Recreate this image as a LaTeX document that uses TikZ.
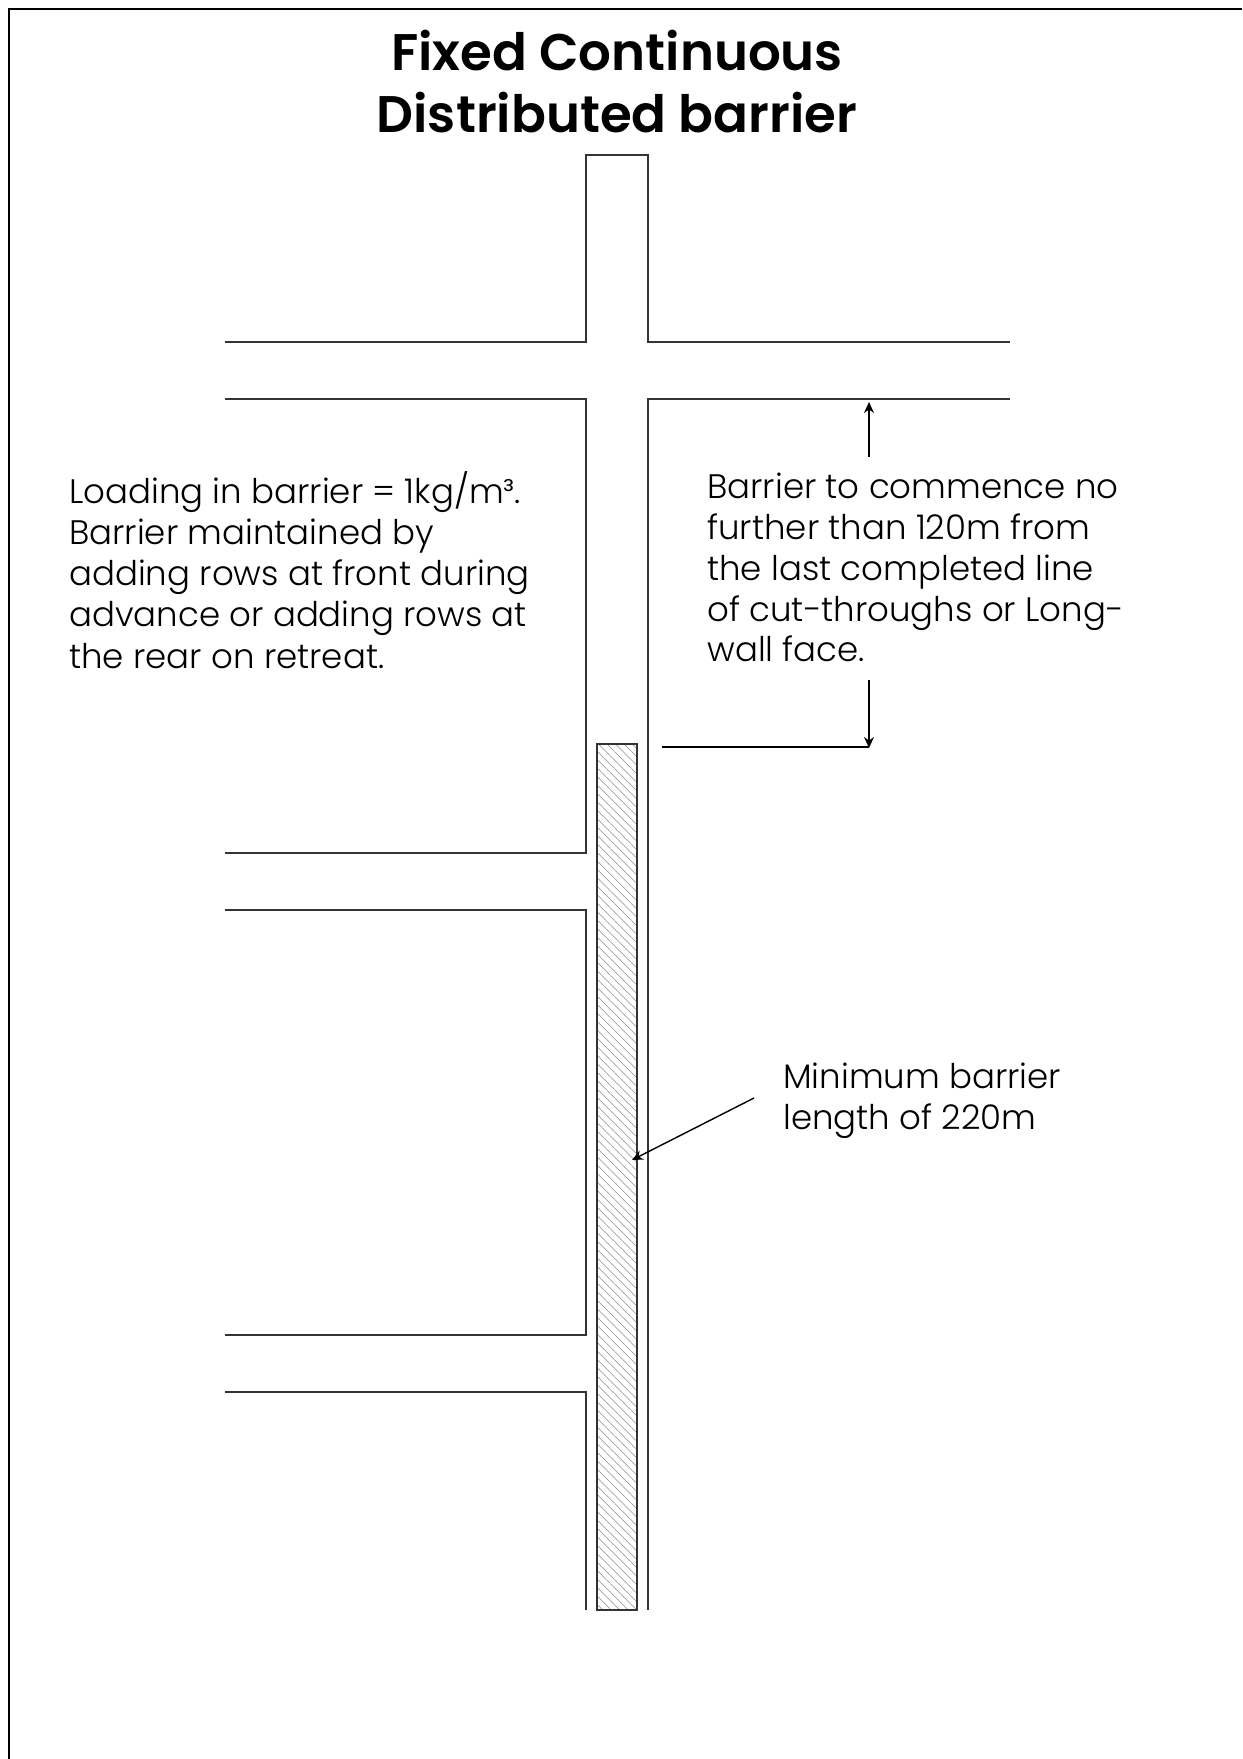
\documentclass[tikz,border=0pt]{standalone}
\usepackage{fontspec}
\setmainfont[BoldFont={Poppins SemiBold}]{Poppins Light}
\usetikzlibrary{arrows.meta, patterns.meta}

\begin{document}
\begin{tikzpicture}[x=0.02cm, y=-0.02cm,
    wall/.style={line width=0.8pt, draw=black!80},
    frameline/.style={line width=1.2pt},
    dimline/.style={line width=0.8pt},
    dimarrow/.style={dimline, -{Stealth[length=2.2mm, width=2mm]}},
    note/.style={inner sep=0pt, anchor=north west, align=left,
                 font=\fontsize{19.35}{23.2}\selectfont},
    heading/.style={inner sep=0pt, anchor=north, align=center,
                    font=\fontsize{29.3}{35}\selectfont\bfseries}]
  \useasboundingbox (0,0) rectangle (1242,1759);
  % moldura
  \draw[frameline] (9,1759) -- (9,9) -- (1242,9);
  % titulo
  \node[heading] (title) at (617,30) {Fixed Continuous\\Distributed barrier};
  % galeria
  \draw[wall] (225,342) -- (586,342) -- (586,155) -- (648,155) -- (648,342) -- (1010,342);
  \draw[wall] (225,399) -- (586,399) -- (586,853) -- (225,853);
  \draw[wall] (225,910) -- (586,910) -- (586,1335) -- (225,1335);
  \draw[wall] (225,1392) -- (586,1392) -- (586,1610);
  \draw[wall] (1010,399) -- (648,399) -- (648,1610);
  % barreira
  \draw[wall, pattern={Lines[angle=-45, distance=3.4pt, line width=0.3pt]},
        pattern color=black!45] (597,744) rectangle (637,1610);
  % textos
  \node[note, font=\fontsize{19.35}{23.45}\selectfont] (loading) at (69,471) {Loading in barrier = 1kg/m³.\\Barrier maintained by\\adding rows at front during\\advance or adding rows at\\the rear on retreat.};
  \node[note] (commence) at (707,473) {Barrier to commence no\\further than 120m from\\the last completed line\\of cut-throughs or Long-\\wall face.};
  \node[note] (minimum) at (783,1063) {Minimum barrier\\length of 220m};
  % cotas
  \coordinate (upstart) at (869,457);
  \coordinate (uptip) at (869,402);
  \coordinate (downstart) at (869,680);
  \coordinate (downtip) at (869,748);
  \coordinate (offset) at (662,747);
  \coordinate (minstart) at (754,1098);
  \coordinate (mintip) at (632,1160);
  \draw[dimarrow] (upstart) -- (uptip);
  \draw[dimarrow] (downstart) -- (downtip);
  \draw[dimline] (offset) -- (offset -| downtip);
  \draw[dimarrow] (minstart) -- (mintip);
\end{tikzpicture}
\end{document}
